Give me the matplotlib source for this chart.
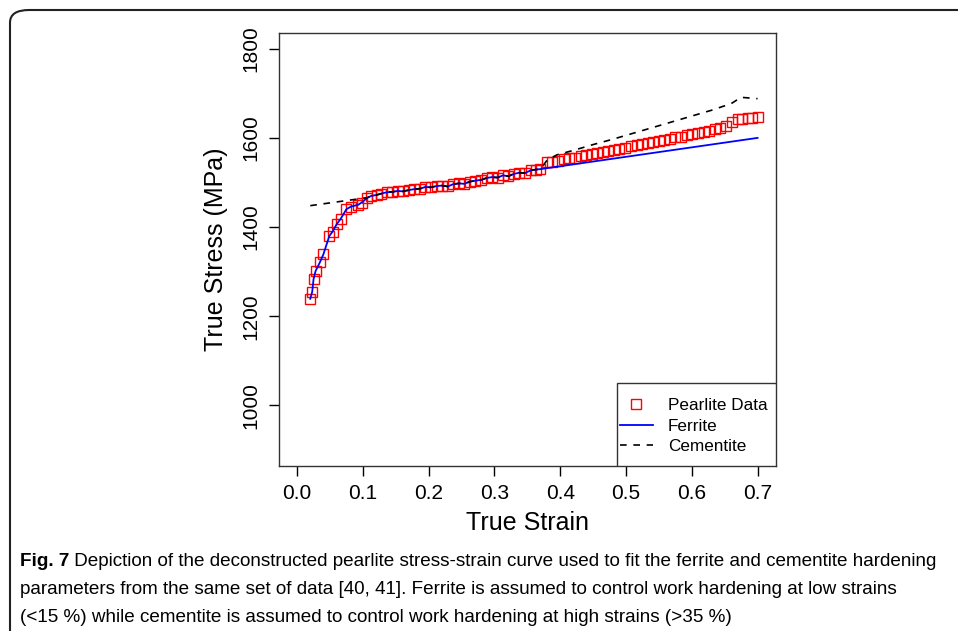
import matplotlib.pyplot as plt
from matplotlib.patches import FancyBboxPatch, Rectangle

# pearlite stress-strain data
pearlite_strain = [0.020, 0.023, 0.025, 0.028, 0.035, 0.040, 0.049, 0.054, 0.060, 0.066,
                   0.075, 0.082, 0.093, 0.098, 0.107, 0.113, 0.121, 0.128, 0.136, 0.145,
                   0.153, 0.161, 0.170, 0.178, 0.187, 0.195, 0.203, 0.212, 0.220, 0.229,
                   0.237, 0.246, 0.254, 0.263, 0.271, 0.280, 0.288, 0.296, 0.305, 0.313,
                   0.321, 0.329, 0.338, 0.346, 0.355, 0.363, 0.370, 0.380, 0.388, 0.397,
                   0.405, 0.414, 0.422, 0.431, 0.439, 0.448, 0.456, 0.465, 0.473, 0.482,
                   0.490, 0.499, 0.507, 0.516, 0.524, 0.533, 0.541, 0.550, 0.558, 0.567,
                   0.575, 0.584, 0.592, 0.601, 0.609, 0.618, 0.626, 0.635, 0.643, 0.652,
                   0.661, 0.670, 0.677, 0.685, 0.692, 0.700]
pearlite_stress = [1239, 1255, 1283, 1301, 1322, 1339, 1380, 1390, 1406, 1418,
                   1440, 1446, 1450, 1455, 1466, 1470, 1472, 1475, 1478, 1479,
                   1481, 1480, 1483, 1485, 1486, 1490, 1489, 1492, 1493, 1491,
                   1496, 1498, 1497, 1502, 1504, 1506, 1510, 1512, 1511, 1516,
                   1514, 1519, 1522, 1521, 1527, 1529, 1530, 1545, 1547, 1549,
                   1552, 1554, 1556, 1559, 1561, 1563, 1566, 1568, 1571, 1573,
                   1576, 1578, 1581, 1583, 1586, 1588, 1591, 1593, 1596, 1598,
                   1601, 1603, 1606, 1608, 1611, 1613, 1616, 1619, 1622, 1626,
                   1636, 1642, 1643, 1644, 1644, 1646]

# ferrite: follows data at low strain, linear hardening at high strain
ferrite_strain = pearlite_strain[:47] + [0.70]
ferrite_stress = pearlite_stress[:47] + [1600]

# cementite: linear at low strain, follows data in the middle, steeper at high strain
cementite_strain = [0.020, 0.107] + pearlite_strain[15:47] + \
    [0.380, 0.395, 0.420, 0.450, 0.480, 0.510, 0.540, 0.570, 0.600, 0.630, 0.660, 0.675, 0.700]
cementite_stress = [1448, 1466] + pearlite_stress[15:47] + \
    [1550, 1562, 1572, 1585, 1597, 1610, 1623, 1636, 1649, 1662, 1677, 1691, 1688]

xticks = [0.0, 0.1, 0.2, 0.3, 0.4, 0.5, 0.6, 0.7]
yticks = [1000, 1200, 1400, 1600, 1800]

caption_bold = "Fig. 7"
caption_lines = [
    " Depiction of the deconstructed pearlite stress-strain curve used to fit the ferrite and cementite hardening",
    "parameters from the same set of data [40, 41]. Ferrite is assumed to control work hardening at low strains",
    "(<15 %) while cementite is assumed to control work hardening at high strains (>35 %)",
]

plt.rcParams['font.family'] = ['Liberation Sans', 'DejaVu Sans']

W, H = 958, 631
fig = plt.figure(figsize=(W / 100, H / 100), dpi=100)
ax = fig.add_axes([0.2909, 0.2615, 0.5191, 0.6867])

ax.plot(pearlite_strain, pearlite_stress, linestyle='none', marker='s', ms=7,
        mfc='none', mec='red', mew=1.0, label='Pearlite Data')
ax.plot(ferrite_strain, ferrite_stress, color='blue', lw=1.3, label='Ferrite')
ax.plot(cementite_strain, cementite_stress, color='black', lw=1.2,
        linestyle=(0, (4, 4)), label='Cementite')

ax.set_xlim(-0.028, 0.728)
ax.set_ylim(864, 1836)
ax.set_xticks(xticks)
ax.set_xticklabels([f"{t:.1f}" for t in xticks])
ax.set_yticks(yticks)
ax.set_yticklabels([str(t) for t in yticks], rotation=90, va='center')
ax.tick_params(direction='out', length=7, width=1, labelsize=15, pad=6)
for s in ax.spines.values():
    s.set_color('#333333')
    s.set_linewidth(1)

ax.set_xlabel('True Strain', fontsize=18, labelpad=6)
ax.set_ylabel('True Stress (MPa)', fontsize=18, labelpad=10)

# legend box drawn separately so the padding matches R's legend
ax.add_patch(Rectangle((0.680, 0.0), 0.320, 0.1916, transform=ax.transAxes,
                       fill=True, fc='white', ec='#333333', lw=1, zorder=4))
leg = ax.legend(loc='center left', bbox_to_anchor=(0.686, 0.092), borderaxespad=0,
                borderpad=0, fontsize=12.3, frameon=False, handlelength=1.93,
                handletextpad=0.88, labelspacing=0.34)
leg.set_zorder(5)

# rounded figure border
border = FancyBboxPatch((10 / W, -30 / H), 1.2, (621 + 30) / H,
                        boxstyle='round,pad=0,rounding_size=0.02',
                        transform=fig.transFigure, fill=False, ec='#222222', lw=1.5)
fig.patches.append(border)

# caption: scale the font so the first line spans the same width as the reference
cap_font = ['Liberation Sans Narrow', 'Liberation Sans']
cap_size = 13.0
y0 = 1 - 562 / H
tb = fig.text(20 / W, y0, caption_bold, fontsize=cap_size, fontweight='bold',
              family=cap_font, va='center')
t1 = fig.text(0, y0, caption_lines[0], fontsize=cap_size, family=cap_font, va='center')
fig.canvas.draw()
r = fig.canvas.get_renderer()
total = tb.get_window_extent(r).width + t1.get_window_extent(r).width
cap_size = cap_size * 923 / total
tb.set_fontsize(cap_size)
t1.set_fontsize(cap_size)
fig.canvas.draw()
t1.set_x((20 + tb.get_window_extent(r).width) / W)
fig.text(20 / W, 1 - 590 / H, caption_lines[1], fontsize=cap_size,
         family=cap_font, va='center')
fig.text(20 / W, 1 - 617 / H, caption_lines[2], fontsize=cap_size,
         family=cap_font, va='center')

fig.savefig('out.png', dpi=100)
